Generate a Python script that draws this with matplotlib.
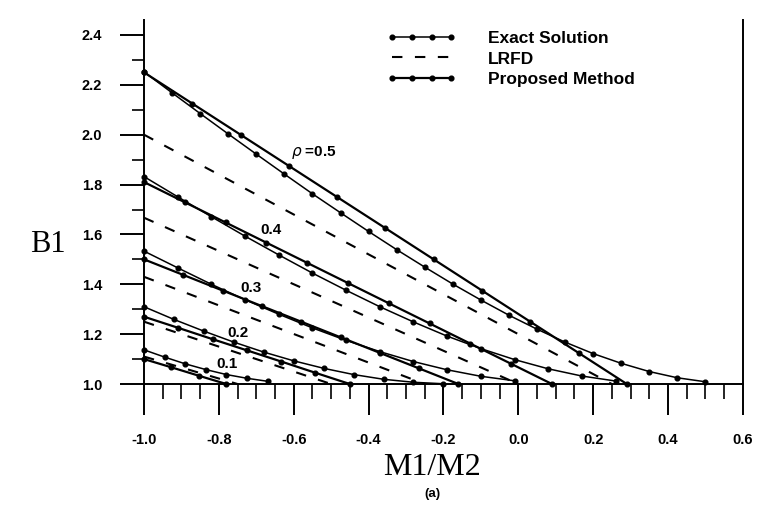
import numpy as np
import matplotlib
matplotlib.use("Agg")
import matplotlib.pyplot as plt
from matplotlib.ticker import MultipleLocator, FormatStrFormatter

# curves for rho = 0.5, 0.4, 0.3, 0.2, 0.1
rho_labels = ["$\\rho$ =0.5", "0.4", "0.3", "0.2", "0.1"]

exact_x = [
    [-1.0, -0.925, -0.85, -0.775, -0.7, -0.625, -0.55, -0.475, -0.4, -0.325, -0.25,
     -0.175, -0.1, -0.025, 0.05, 0.125, 0.2, 0.275, 0.35, 0.425, 0.5],
    [-1.0, -0.91, -0.82, -0.73, -0.64, -0.55, -0.46, -0.37, -0.28, -0.19, -0.10,
     -0.01, 0.08, 0.17, 0.26],
    [-1.0, -0.91, -0.82, -0.73, -0.64, -0.55, -0.46, -0.37, -0.28, -0.19, -0.10, -0.01],
    [-1.0, -0.92, -0.84, -0.76, -0.68, -0.60, -0.52, -0.44, -0.36, -0.28, -0.20],
    [-1.0, -0.945, -0.89, -0.835, -0.78, -0.725, -0.67],
]
exact_b = [
    [2.252, 2.168, 2.085, 2.003, 1.922, 1.842, 1.763, 1.687, 1.612, 1.539, 1.469,
     1.401, 1.337, 1.276, 1.220, 1.168, 1.122, 1.083, 1.050, 1.025, 1.009],
    [1.832, 1.751, 1.671, 1.593, 1.518, 1.445, 1.376, 1.310, 1.249, 1.192, 1.142,
     1.098, 1.061, 1.032, 1.012],
    [1.533, 1.466, 1.400, 1.338, 1.280, 1.225, 1.175, 1.130, 1.090, 1.057, 1.031, 1.013],
    [1.310, 1.259, 1.212, 1.168, 1.128, 1.093, 1.063, 1.038, 1.019, 1.007, 1.001],
    [1.137, 1.108, 1.081, 1.058, 1.038, 1.023, 1.011],
]

prop_x = [
    [-1.0, -0.871, -0.742, -0.613, -0.484, -0.355, -0.226, -0.097, 0.032, 0.161, 0.29],
    [-1.0, -0.891, -0.782, -0.673, -0.564, -0.455, -0.346, -0.237, -0.128, -0.019, 0.09],
    [-1.0, -0.895, -0.79, -0.685, -0.58, -0.475, -0.37, -0.265, -0.16],
    [-1.0, -0.908, -0.817, -0.725, -0.633, -0.542, -0.45],
    [-1.0, -0.927, -0.853, -0.78],
]
prop_b = [
    [2.25, 2.125, 2.0, 1.875, 1.75, 1.625, 1.5, 1.375, 1.25, 1.125, 1.0],
    [1.81, 1.729, 1.648, 1.567, 1.486, 1.405, 1.324, 1.243, 1.162, 1.081, 1.0],
    [1.5, 1.4375, 1.375, 1.3125, 1.25, 1.1875, 1.125, 1.0625, 1.0],
    [1.27, 1.225, 1.18, 1.135, 1.09, 1.045, 1.0],
    [1.10, 1.067, 1.033, 1.0],
]

lrfd_x = [[-1.0, 0.25], [-1.0, 0.0], [-1.0, -0.25], [-1.0, -0.5], [-1.0, -0.75]]
lrfd_b = [[2.0, 1.0], [1.667, 1.0], [1.43, 1.0], [1.25, 1.0], [1.11, 1.0]]

# label anchor points (data coords)
label_x = [-0.546, -0.661, -0.714, -0.749, -0.778]
label_b = [1.928, 1.616, 1.384, 1.204, 1.08]

plt.rcParams['font.family'] = ['Liberation Sans', 'DejaVu Sans']
plt.rcParams['axes.unicode_minus'] = False

fig = plt.figure(figsize=(7.58, 5.11), dpi=100)
ax = fig.add_axes([0.19, 0.2485, 0.79, 0.7123])

for i in range(len(rho_labels)):
    ax.plot(exact_x[i], exact_b[i], color='black', lw=1.1, marker='o', ms=3.4,
            clip_on=False, label='Exact Solution' if i == 0 else None)
    ax.plot(lrfd_x[i], lrfd_b[i], color='black', lw=1.5, dashes=(5, 6),
            clip_on=False, label='LRFD' if i == 0 else None)
    ax.plot(prop_x[i], prop_b[i], color='black', lw=1.6, marker='o', ms=3.4,
            clip_on=False, label='Proposed Method' if i == 0 else None)
    ax.text(label_x[i], label_b[i], rho_labels[i], fontsize=11, fontweight='bold',
            ha='center', va='center')

ax.set_xlim(-1.0, 0.6)
ax.set_ylim(1.0, 2.46)
ax.xaxis.set_major_locator(MultipleLocator(0.2))
ax.xaxis.set_minor_locator(MultipleLocator(0.05))
ax.yaxis.set_major_locator(MultipleLocator(0.2))
ax.yaxis.set_minor_locator(MultipleLocator(0.1))
ax.xaxis.set_major_formatter(FormatStrFormatter('%.1f'))
ax.yaxis.set_major_formatter(FormatStrFormatter('%.1f'))
ax.set_yticks(np.arange(1.0, 2.41, 0.2))

ax.spines['top'].set_visible(False)
for s in ['left', 'bottom', 'right']:
    ax.spines[s].set_linewidth(1.4)

ax.tick_params(axis='x', which='major', direction='out', length=22, width=1.4, pad=13,
               labelsize=10.5)
ax.tick_params(axis='x', which='minor', direction='out', length=11, width=1.2)
ax.tick_params(axis='y', which='major', direction='out', length=17, width=1.4, pad=13,
               labelsize=10.5)
ax.tick_params(axis='y', which='minor', direction='out', length=9, width=1.2)
for lab in ax.get_xticklabels() + ax.get_yticklabels():
    lab.set_fontweight('bold')

leg = ax.legend(loc='upper left', bbox_to_anchor=(387 / 758, 1 - 31 / 511),
                bbox_transform=fig.transFigure, frameon=False, fontsize=12.5,
                handlelength=4.0, handletextpad=1.8, labelspacing=0.3,
                borderpad=0, borderaxespad=0, numpoints=4)
for t in leg.get_texts():
    t.set_fontweight('bold')

fig.text(48 / 758, 1 - 245 / 511, 'B1', family='Liberation Serif', fontsize=22,
         ha='center', va='center')
fig.text(432 / 758, 1 - 467 / 511, 'M1/M2', family='Liberation Serif', fontsize=23,
         ha='center', va='center')
fig.text(432 / 758, 1 - 494 / 511, '(a)', fontsize=9.5, fontweight='bold',
         ha='center', va='center')

fig.savefig('out.png', dpi=100)
